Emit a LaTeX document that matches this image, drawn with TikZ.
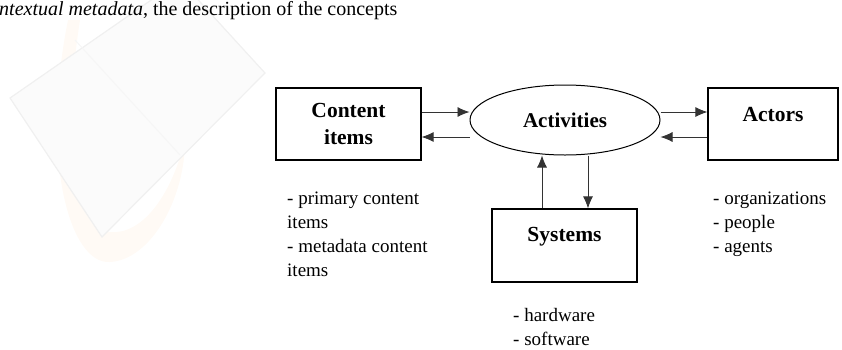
\documentclass[tikz,border=0pt]{standalone}
\usepackage{fontspec}
\setmainfont{Liberation Serif}
\usetikzlibrary{shapes.geometric, positioning, arrows.meta}

\tikzset{
  block/.style={draw, line width=1.2pt, minimum height=72pt, inner sep=0pt,
    align=center, font=\fontsize{21.5}{27}\selectfont\bfseries},
  oval/.style={ellipse, draw, line width=1pt, minimum width=190pt,
    minimum height=70pt, inner sep=0pt, font=\fontsize{21}{24}\selectfont\bfseries},
  list/.style={anchor=north west, align=left, inner sep=0pt,
    font=\fontsize{19}{24}\selectfont},
  link/.style={->, line width=0.8pt, draw=black!80},
}

\begin{document}
\begin{tikzpicture}[x=1pt, y=-1pt, >={Latex[length=12pt,width=10pt]}]
    \useasboundingbox (0,0) rectangle (842,349);
    % watermark
    \fill[orange!4] (68,20) .. controls (40,160) and (70,265) .. (110,262)
        .. controls (150,260) and (185,200) .. (185,140)
        .. controls (170,200) and (140,235) .. (110,232)
        .. controls (75,228) and (60,150) .. (80,20) -- cycle;
    \filldraw[fill=gray!3, draw=gray!12, line width=1.2pt]
        (10,98) -- (102,237) -- (265,73) -- (180,-20) -- cycle;
    \draw[gray!7, line width=1pt] (75,40) -- (180,155);

    % top line of text
    \node[anchor=base west, inner sep=0pt, font=\fontsize{20}{24}\selectfont]
        (head) at (-1,15) {\textit{ntextual metadata}, the description of the concepts};

    % boxes
    \node[block, minimum width=145pt] (content) at (348.5,124) {Content\\items};
    \node[oval] (act) at (565,120) {Activities};
    \node[block, minimum width=130pt, text depth=20pt] (actors) at (773,124) {Actors};
    \node[block, minimum width=145pt, minimum height=73pt, text depth=23pt]
        (systems) at (564.5,245.5) {Systems};

    % arrows
    \draw[link] ([yshift=12pt]content.east) -- ([yshift=12pt]content.east -| act.west);
    \draw[link] ([yshift=-13pt]content.east -| act.west) -- ([yshift=-13pt]content.east);
    \draw[link] ([yshift=8pt]act.east) -- ([yshift=8pt]act.east -| actors.west);
    \draw[link] ([yshift=-13pt]actors.west) -- ([yshift=-13pt]actors.west -| act.east);
    \draw[link] ([xshift=-22.5pt]systems.north) -- ([xshift=-22.5pt]systems.north |- act.south);
    \draw[link] ([xshift=23.5pt]systems.north |- act.south) -- ([xshift=23.5pt]systems.north);

    % lists
    \node[list] (contentlist) at (287,192) {- primary content\\items\\- metadata content\\items};
    \node[list] (actorlist) at (713,192) {- organizations\\- people\\- agents};
    \node[list] (systemlist) at (513,308) {- hardware\\- software};
\end{tikzpicture}
\end{document}
